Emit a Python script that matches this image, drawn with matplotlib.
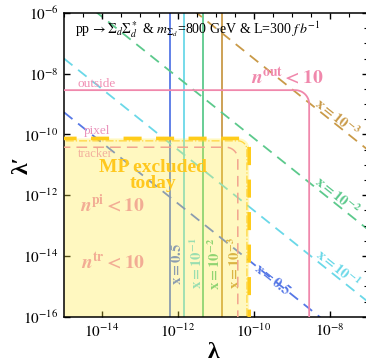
"""
Lambda vs lambda' plane for pp -> Sigma_d Sigma_d^*, m = 800 GeV, L = 300 fb^-1.
"""

import numpy as np
import matplotlib.pyplot as plt
from matplotlib.ticker import LogLocator, FixedLocator, NullFormatter

# --------------
# Data (log10 values)
# --------------
x_labels = ["0.5", "10^{-1}", "10^{-2}", "10^{-3}"]
x_colors = ["#5577e6", "#6ad8e8", "#5cc98c", "#c99a48"]
vertical_lam = [-12.21, -11.84, -11.34, -10.84]      # solid verticals, log10(lambda)
diagonal_prod = [-24.27, -22.5, -20.12, -17.5]         # dashed lines, log10(lambda*lambda')

outside_edge = [-8.54, -8.54]    # (lambda, lambda')
tracker_edge = [-10.42, -10.42]
pixel_edge = [-10.12, -10.13]
pixel_inner_edge = [-10.18, -10.21]

xlim_log = [-15, -7]
ylim_log = [-16, -6]
x_ticks = [-14, -12, -10, -8]
y_ticks = [-16, -14, -12, -10, -8, -6]

plt.rcParams["font.family"] = "serif"
plt.rcParams["font.serif"] = ["Liberation Serif", "DejaVu Serif"]
plt.rcParams["mathtext.fontset"] = "stix"

fig = plt.figure(figsize=(3.66, 3.63), dpi=100)
ax = fig.add_axes([64 / 366, 46.3 / 363, 303.6 / 366, 303.7 / 363])
ax.set_xscale("log")
ax.set_yscale("log")
ax.set_xlim(10.0 ** xlim_log[0], 10.0 ** xlim_log[1])
ax.set_ylim(10.0 ** ylim_log[0], 10.0 ** ylim_log[1])

# pixels per decade, used to make round corners look round
PX_X = 303.6 / (xlim_log[1] - xlim_log[0])
PX_Y = 303.7 / (ylim_log[1] - ylim_log[0])


def corner_path(xr, yt, r_px, closed=False):
    """Boundary going right along top edge, round corner, then down."""
    rx, ry = r_px / PX_X, r_px / PX_Y
    t = np.linspace(np.pi / 2, 0, 30)
    xs = [xlim_log[0] - 1, xr - rx] + list(xr - rx + rx * np.cos(t)) + [xr, xr]
    ys = [yt, yt] + list(yt - ry + ry * np.sin(t)) + [yt - ry, ylim_log[0] - 1]
    if closed:
        xs += [xlim_log[0] - 1]
        ys += [ylim_log[0] - 1]
    return 10.0 ** np.array(xs), 10.0 ** np.array(ys)


# vertical solid lines and diagonal dashed lines
for xv, col in zip(vertical_lam, x_colors):
    ax.axvline(10.0 ** xv, color=col, lw=1.3, zorder=1)

lam = np.array([10.0 ** xlim_log[0], 10.0 ** xlim_log[1]])
for c, col in zip(diagonal_prod, x_colors):
    ax.plot(lam, 10.0 ** c / lam, color=col, lw=1.3, ls=(0, (6, 4)), zorder=1)

# labels on vertical lines (under the yellow fill)
vert_pos = [-12.03, -11.50, -11.02, -10.50]
for xp, lab, col in zip(vert_pos, x_labels, x_colors):
    ax.text(10.0 ** xp, 10.0 ** -14.25, r"$\mathbf{x{=}%s}$" % lab, color=col, rotation=90,
            ha="center", va="center", fontsize=10.5, zorder=1)

# labels on diagonals
diag_pos = [(-9.52, -14.78), (-7.80, -14.42), (-7.82, -12.0), (-7.80, -9.45)]
for (xp, yp), lab, col in zip(diag_pos, x_labels, x_colors):
    ax.text(10.0 ** xp, 10.0 ** yp, r"$\mathbf{x{=}%s}$" % lab, color=col, rotation=-38.7,
            ha="center", va="center", fontsize=10.5, zorder=1)

# MP excluded region (pixel)
fx, fy = corner_path(pixel_edge[0], pixel_edge[1], 10, closed=True)
ax.fill(fx, fy, color="#ffec3c", alpha=0.32, lw=0, zorder=2)
px, py = corner_path(pixel_edge[0], pixel_edge[1], 10)
ax.plot(px, py, color="#ffcc1a", lw=2.6, ls=(0, (5, 4)), zorder=3)
px, py = corner_path(pixel_inner_edge[0], pixel_inner_edge[1], 9)
ax.plot(px, py, color="#ffcc1a", lw=0.9, ls="-.", alpha=0.8, zorder=3)

# tracker
tx, ty = corner_path(tracker_edge[0], tracker_edge[1], 12)
ax.plot(tx, ty, color="#f2a48e", lw=1.1, ls=(0, (7, 4)), zorder=3)

# outside
ox, oy = corner_path(outside_edge[0], outside_edge[1], 14)
ax.plot(ox, oy, color="#f088ac", lw=1.3, zorder=3)

# texts
ax.text(10.0 ** -14.14, 10.0 ** -8.33, "outside", color="#f090b4",
        ha="center", va="center", fontsize=9.5, zorder=4)
ax.text(10.0 ** -14.14, 10.0 ** -9.88, "pixel", color="#ea94bc",
        ha="center", va="center", fontsize=9.5, zorder=4)
ax.text(10.0 ** -14.18, 10.0 ** -10.64, "tracker", color="#f2ae9c",
        ha="center", va="center", fontsize=9, zorder=4)

ax.text(10.0 ** -12.66, 10.0 ** -11.08, "MP excluded", color="#ffc81e",
        ha="center", va="center", fontsize=14, fontweight="bold", zorder=4)
ax.text(10.0 ** -12.66, 10.0 ** -11.62, "today", color="#ffc81e",
        ha="center", va="center", fontsize=14, fontweight="bold", zorder=4)

ax.text(10.0 ** -13.71, 10.0 ** -12.32, r"$\mathbfit{n}^{\mathbf{pi}}\mathbf{<10}$",
        color="#f2ac94", ha="center", va="center", fontsize=14, zorder=4)
ax.text(10.0 ** -13.71, 10.0 ** -14.2, r"$\mathbfit{n}^{\mathbf{tr}}\mathbf{<10}$",
        color="#f2ac94", ha="center", va="center", fontsize=14, zorder=4)
ax.text(10.0 ** -9.12, 10.0 ** -8.11, r"$\mathbfit{n}^{\mathbf{out}}\mathbf{<10}$",
        color="#f088ac", ha="center", va="center", fontsize=14, zorder=4)

ax.text(0.036, 0.944,
        r"pp$\,\rightarrow\Sigma_d\Sigma_d^*$ & $m_{\Sigma_d}$=800 GeV & L=300 $f\,b^{-1}$",
        transform=ax.transAxes, ha="left", va="center", fontsize=10, zorder=5)

# axes, ticks
ax.xaxis.set_major_locator(FixedLocator([10.0 ** v for v in x_ticks]))
ax.yaxis.set_major_locator(FixedLocator([10.0 ** v for v in y_ticks]))
ax.set_xticklabels(["$10^{%d}$" % v for v in x_ticks])
ax.set_yticklabels(["$10^{%d}$" % v for v in y_ticks])
ax.xaxis.set_minor_locator(LogLocator(base=10, subs=(1.0, 10 ** 0.5), numticks=30))
ax.yaxis.set_minor_locator(LogLocator(base=10, subs=(1.0, 10 ** 0.5), numticks=30))
ax.xaxis.set_minor_formatter(NullFormatter())
ax.yaxis.set_minor_formatter(NullFormatter())
ax.tick_params(which="major", direction="in", length=4, width=1, labelsize=11,
               top=True, right=True, pad=4)
ax.tick_params(which="minor", direction="in", length=3, width=0.8,
               left=False, bottom=False, top=True, right=True)
for s in ax.spines.values():
    s.set_linewidth(1.1)

fig.text(22 / 366, 1 - 165 / 363, "λ′", rotation=90, ha="center", va="center",
         fontsize=17, fontweight="bold")
fig.text(213 / 366, 1 - 352 / 363, "λ", ha="center", va="center",
         fontsize=17, fontweight="bold")

fig.savefig("out.png", dpi=100)
plt.close(fig)
